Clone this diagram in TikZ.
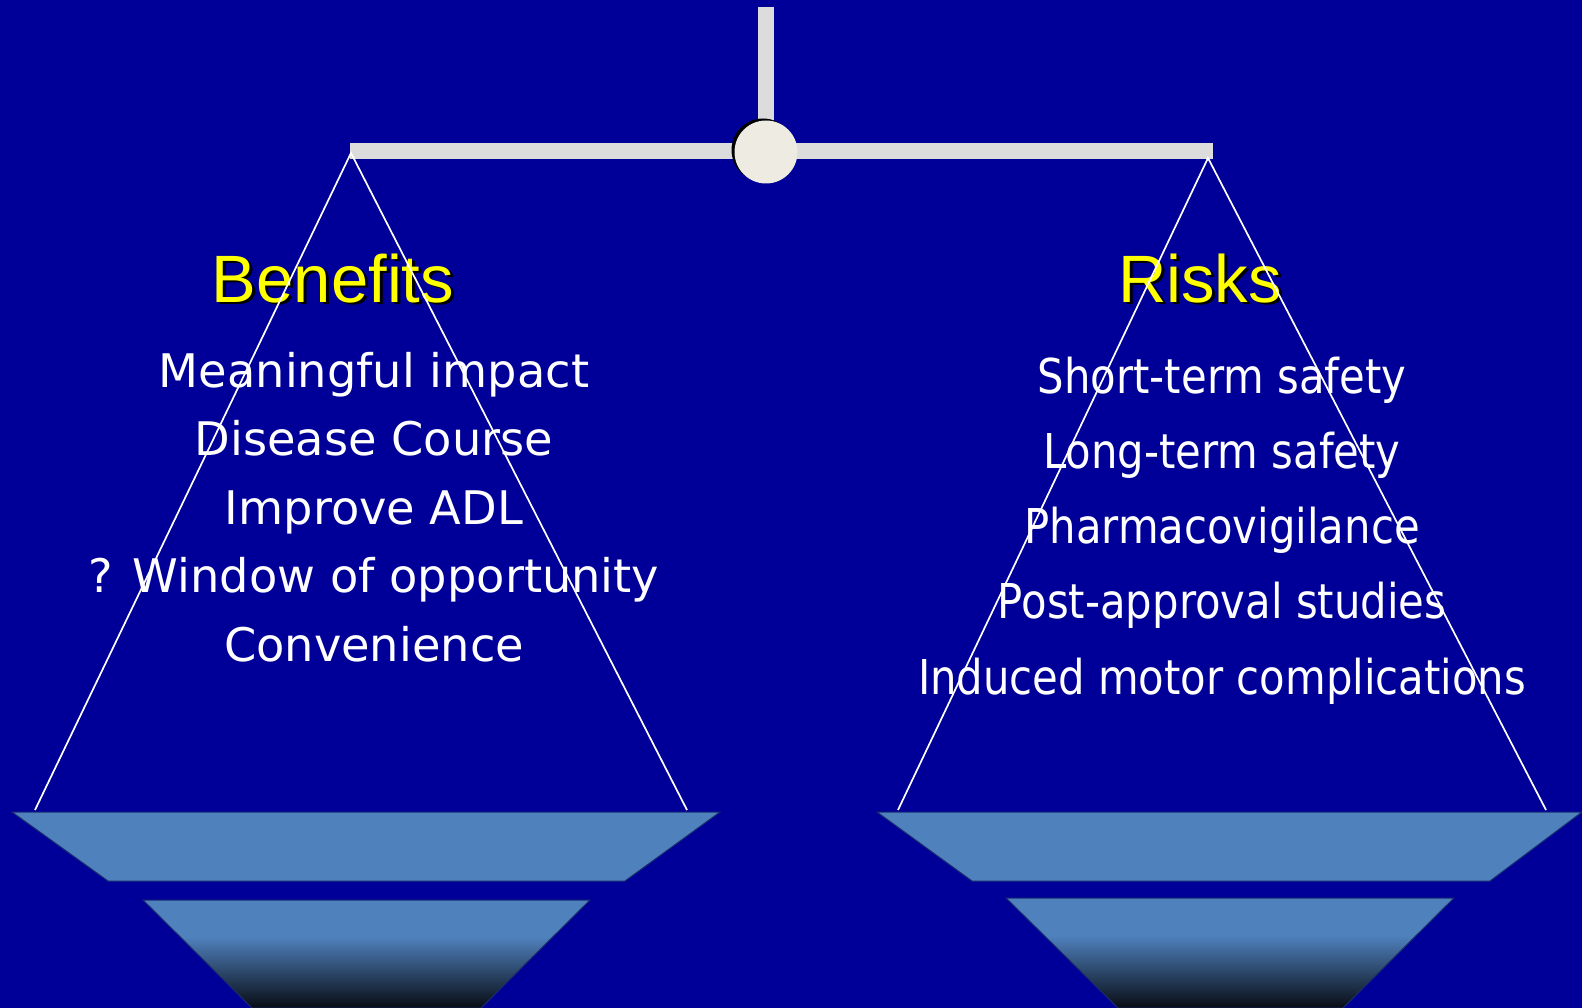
\documentclass[tikz,border=0pt]{standalone}
\usepackage{fontspec}
\newfontfamily\headfont{Liberation Sans}
\newfontfamily\benfont{DejaVu Sans}
\newfontfamily\riskfont[FakeStretch=0.87]{DejaVu Sans}
\definecolor{slideblue}{RGB}{0, 0, 153}
\definecolor{beamgray}{RGB}{220, 220, 220}
\definecolor{pivotcream}{RGB}{238, 236, 226}
\definecolor{panblue}{RGB}{79, 129, 189}
\definecolor{panedge}{RGB}{25, 45, 110}
\definecolor{panblack}{RGB}{8, 12, 20}
\definecolor{headyellow}{RGB}{255, 255, 0}
\pgfdeclareverticalshading{panfade}{100bp}{color(0bp)=(panblack); color(25bp)=(panblack); color(58bp)=(panblue); color(100bp)=(panblue)}
\tikzset{
  heading/.style={font=\headfont\fontsize{67}{80}\selectfont, text=headyellow, anchor=base, inner sep=0pt},
  headshadow/.style={heading, text=black},
  benitem/.style={font=\benfont\fontsize{46.3}{55}\selectfont, text=white, anchor=base, inner sep=0pt},
  riskitem/.style={font=\riskfont\fontsize{48}{57}\selectfont, text=white, anchor=base, inner sep=0pt},
  cord/.style={white, line width=1.7pt},
  pan/.style={fill=panblue, draw=panedge, line width=1pt},
}

\begin{document}
\begin{tikzpicture}[x=1pt, y=-1pt]
  % Background
  \fill[slideblue] (0,0) rectangle (1582,1008);
  \useasboundingbox (0,0) rectangle (1582,1008);

  % Post and beam
  \fill[beamgray] (758,7) rectangle (774,130);
  \fill[beamgray] (350,143) rectangle (1213,159);

  % Pivot
  \fill[black] (763,150) circle (31.5);
  \fill[pivotcream] (766,152) circle (31.5);

  % Headings
  \node[headshadow] (benshadow) at (336,305) {Benefits};
  \node[heading] (benefits) at (333,302) {Benefits};
  \node[headshadow] (riskshadow) at (1203,305) {Risks};
  \node[heading] (risks) at (1200,302) {Risks};

  % Benefit items
  \foreach \txt [count=\i] in {Meaningful impact, Disease Course, Improve ADL, ? Window of opportunity, Convenience}
    \node[benitem] (ben\i) at (374, {387+68.6*(\i-1)}) {\txt};

  % Risk items
  \foreach \txt [count=\i] in {Short-term safety, Long-term safety, Pharmacovigilance, Post-approval studies, Induced motor complications}
    \node[riskitem] (risk\i) at (1222, {393+75.25*(\i-1)}) {\txt};

  % Cords
  \coordinate (lhook) at (351,153);
  \coordinate (rhook) at (1208,158);
  \coordinate (lpanl) at (35,810);
  \coordinate (lpanr) at (687,810);
  \coordinate (rpanl) at (898,810);
  \coordinate (rpanr) at (1546,810);
  \draw[cord] (lpanl) -- (lhook) -- (lpanr);
  \draw[cord] (rpanl) -- (rhook) -- (rpanr);

  % Left pan
  \path[pan] (12,812) -- (720,812) -- (625,881) -- (108,881) -- cycle;
  \shade[shading=panfade, draw=panedge, line width=1pt] (143,900) -- (590,900) -- (481,1008) -- (252,1008) -- cycle;

  % Right pan
  \path[pan] (877,812) -- (1582,812) -- (1490,881) -- (972,881) -- cycle;
  \shade[shading=panfade, draw=panedge, line width=1pt] (1006,898) -- (1454,898) -- (1343,1008) -- (1118,1008) -- cycle;
\end{tikzpicture}
\end{document}
